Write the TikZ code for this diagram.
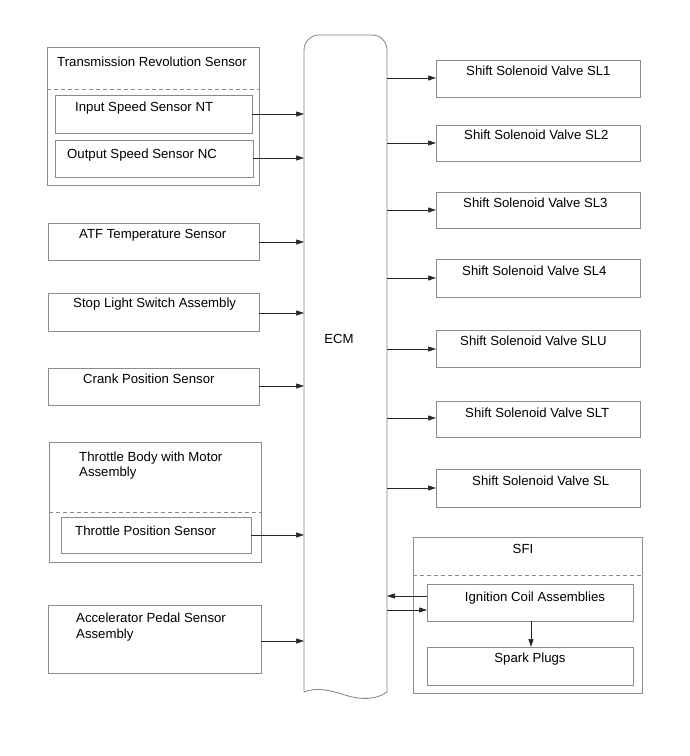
\documentclass[tikz,border=0pt]{standalone}
\usepackage{fontspec}
\setmainfont{Liberation Sans}
\usetikzlibrary{arrows.meta}
\begin{document}
\begin{tikzpicture}[x=1pt,y=-1pt,
  box/.style={draw=black!45, line width=0.8pt, inner sep=0pt, outer sep=0pt, anchor=north west},
  txt/.style={inner sep=0pt, anchor=base west, font=\fontsize{13.2}{15.5}\selectfont},
  ctxt/.style={inner sep=0pt, anchor=base, font=\fontsize{13.2}{15.5}\selectfont},
  sep/.style={draw=black!45, line width=0.7pt, dash pattern=on 4pt off 3pt},
  conn/.style={draw=black!85, line width=0.6pt, -{Triangle[length=8pt,width=5pt]}}]
\useasboundingbox (0,0) rectangle (689,756);

% ECM
\draw[black!50, line width=0.8pt] (304,692) -- (304,50) arc[start angle=180, end angle=270, radius=15] -- (372,35)
  arc[start angle=270, end angle=360, radius=15] -- (387,692)
  .. controls (376,700) and (360,700) .. (345,695)
  .. controls (330,690) and (316,687) .. (304,692);
\coordinate (ecmL) at (304,300);
\coordinate (ecmR) at (387,300);
\node[ctxt] (ecmt) at (339,343) {ECM};

% Transmission Revolution Sensor
\node[box, minimum width=212pt, minimum height=138pt] (trs) at (47,47) {};
\node[txt] (trst) at (57,66) {Transmission Revolution Sensor};
\draw[sep] (47,89) -- (259,89);
\node[box, minimum width=197pt, minimum height=38pt] (nt) at (55,95) {};
\node[txt] (ntt) at (75,111) {Input Speed Sensor NT};
\node[box, minimum width=198pt, minimum height=37pt] (nc) at (55,140) {};
\node[txt] (nct) at (67,158) {Output Speed Sensor NC};
\draw[conn] (nt.east |- 0,114) -- (ecmL |- 0,114);
\draw[conn] (nc.east |- 0,158) -- (ecmL |- 0,158);

% ATF
\node[box, minimum width=211pt, minimum height=37pt] (atf) at (48,223) {};
\node[txt] (atft) at (79,238) {ATF Temperature Sensor};
\draw[conn] (atf.east |- 0,242) -- (ecmL |- 0,242);

% Stop light
\node[box, minimum width=211pt, minimum height=38pt] (stop) at (48,293) {};
\node[txt] (stopt) at (73,307) {Stop Light Switch Assembly};
\draw[conn] (stop.east |- 0,313) -- (ecmL |- 0,313);

% Crank
\node[box, minimum width=211pt, minimum height=37pt] (crank) at (48,368) {};
\node[txt] (crankt) at (83,383) {Crank Position Sensor};
\draw[conn] (crank.east |- 0,386) -- (ecmL |- 0,386);

% Throttle body
\node[box, minimum width=212pt, minimum height=120pt] (tb) at (49,442) {};
\node[txt] (tbt1) at (79,461) {Throttle Body with Motor};
\node[txt] (tbt2) at (79,476) {Assembly};
\draw[sep] (49,512) -- (261,512);
\node[box, minimum width=190pt, minimum height=36pt] (tps) at (61,517) {};
\node[txt] (tpst) at (75,535) {Throttle Position Sensor};
\draw[conn] (tps.east |- 0,535) -- (ecmL |- 0,535);

% Accelerator
\node[box, minimum width=213pt, minimum height=68pt] (acc) at (48,605) {};
\node[txt] (acct1) at (76,622) {Accelerator Pedal Sensor};
\node[txt] (acct2) at (76,638) {Assembly};
\draw[conn] (acc.east |- 0,641) -- (ecmL |- 0,641);

% Solenoid valves
\node[box, minimum width=204pt, minimum height=37pt] (sl1) at (436,60) {};
\node[txt] (sl1t) at (466,75) {Shift Solenoid Valve SL1};
\draw[conn] (ecmR |- 0,78) -- (sl1.west |- 0,78);

\node[box, minimum width=204pt, minimum height=36pt] (sl2) at (436,125) {};
\node[txt] (sl2t) at (464,139) {Shift Solenoid Valve SL2};
\draw[conn] (ecmR |- 0,143) -- (sl2.west |- 0,143);

\node[box, minimum width=204pt, minimum height=36pt] (sl3) at (436,192) {};
\node[txt] (sl3t) at (463,207) {Shift Solenoid Valve SL3};
\draw[conn] (ecmR |- 0,210) -- (sl3.west |- 0,210);

\node[box, minimum width=204pt, minimum height=38pt] (sl4) at (436,259) {};
\node[txt] (sl4t) at (462,275) {Shift Solenoid Valve SL4};
\draw[conn] (ecmR |- 0,278) -- (sl4.west |- 0,278);

\node[box, minimum width=204pt, minimum height=37pt] (slu) at (436,330) {};
\node[txt] (slut) at (460,345) {Shift Solenoid Valve SLU};
\draw[conn] (ecmR |- 0,349) -- (slu.west |- 0,349);

\node[box, minimum width=204pt, minimum height=36pt] (slt) at (436,401) {};
\node[txt] (sltt) at (465,417) {Shift Solenoid Valve SLT};
\draw[conn] (ecmR |- 0,418) -- (slt.west |- 0,418);

\node[box, minimum width=204pt, minimum height=38pt] (sl) at (436,469) {};
\node[txt] (slt2) at (472,485) {Shift Solenoid Valve SL};
\draw[conn] (ecmR |- 0,488) -- (sl.west |- 0,488);

% SFI
\node[box, minimum width=229pt, minimum height=156pt] (sfi) at (413,537) {};
\node[ctxt] (sfit) at (523,553) {SFI};
\draw[sep] (413,575) -- (642,575);
\node[box, minimum width=206pt, minimum height=37pt] (ign) at (427,584) {};
\node[ctxt] (ignt) at (535,601) {Ignition Coil Assemblies};
\node[box, minimum width=206pt, minimum height=38pt] (spark) at (427,647) {};
\node[ctxt] (sparkt) at (530,662) {Spark Plugs};
\draw[conn] (ign.west |- 0,596) -- (ecmR |- 0,596);
\draw[conn] (ecmR |- 0,610) -- (ign.west |- 0,610);
\draw[conn] (ign.south -| 531,0) -- (spark.north -| 531,0);
\end{tikzpicture}
\end{document}
